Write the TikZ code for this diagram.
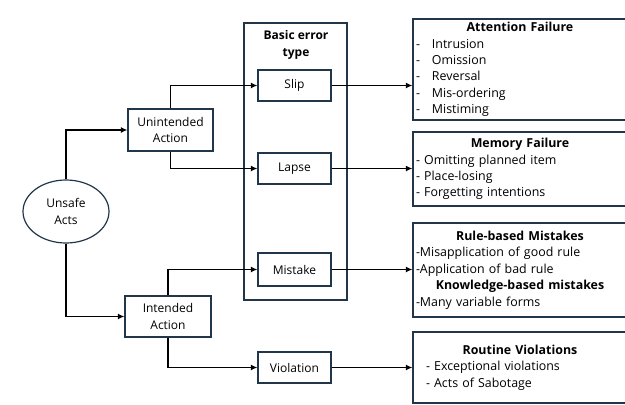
\documentclass[tikz,border=0pt]{standalone}
\usepackage{fontspec}
\setmainfont{Open Sans}
\usetikzlibrary{arrows.meta,shapes.geometric}
\definecolor{edge}{HTML}{22364A}
\tikzset{
  every node/.style={font=\fontsize{12}{16.4}\selectfont},
  box/.style={draw=edge, line width=1.2pt, inner sep=0pt, align=center},
  rbox/.style={draw=edge, line width=1.2pt, inner xsep=3pt, inner ysep=0pt,
     minimum width=214pt, text width=208pt, align=left,
     font=\fontsize{12.4}{16.4}\selectfont},
  arr/.style={line width=1.9pt, -{Latex[length=6.5pt,width=6pt]}},
}
\newcommand{\ttl}[1]{\makebox[\linewidth][c]{\textbf{#1}}}
\begin{document}
\begin{tikzpicture}[x=1pt,y=-1pt]
\useasboundingbox (0,0) rectangle (625,405);
% container
\node[box, minimum width=103pt, minimum height=277pt] (cont) at (295.5,161.5) {};
\node[align=center, inner sep=0pt, font=\fontsize{12}{17}\selectfont\bfseries] (bet) at (296,44.5) {Basic error\\type};
% left
\node[box, ellipse, minimum width=86pt, minimum height=63pt] (ell) at (66,211.5) {Unsafe\\Acts};
\node[box, minimum width=85pt, minimum height=42pt] (ua) at (170.5,130) {Unintended\\Action};
\node[box, minimum width=86pt, minimum height=41pt] (ia) at (168,316.5) {Intended\\Action};
% middle
\node[box, minimum width=73pt, minimum height=31pt] (slip) at (294.5,85.5) {Slip};
\node[box, minimum width=73pt, minimum height=31pt] (lapse) at (294.5,168.5) {Lapse};
\node[box, minimum width=73pt, minimum height=33pt] (mis) at (294.5,269.5) {Mistake};
\node[box, minimum width=73pt, minimum height=31pt] (vio) at (294.5,367.5) {Violation};
% right
\node[rbox, minimum height=101pt] (att) at (520,69.5) {\ttl{Attention Failure}\\
\makebox[16pt][l]{-}Intrusion\\
\makebox[16pt][l]{-}Omission\\
\makebox[16pt][l]{-}Reversal\\
\makebox[16pt][l]{-}Mis-ordering\\
\makebox[16pt][l]{-}Mistiming};
\node[rbox, minimum height=74pt] (mem) at (520,169) {\ttl{Memory Failure}\\
- Omitting planned item\\
- Place-losing\\
- Forgetting intentions};
\node[rbox, minimum height=94pt] (rule) at (520,270) {\ttl{Rule-based Mistakes}\\
-Misapplication of good rule\\
-Application of bad rule\\
\ttl{Knowledge-based mistakes}\\
-Many variable forms};
\node[rbox, minimum height=71pt] (rout) at (520,367.5) {\ttl{Routine Violations}\\
\hspace*{10pt}- Exceptional violations\\
\hspace*{10pt}- Acts of Sabotage};
% connectors
\draw[arr] (ell.north) |- (ua.west);
\draw[arr] (ell.south) |- (ia.west);
\draw[arr] (ua.north) |- (slip.west);
\draw[arr] (ua.south) |- (lapse.west);
\draw[arr] (ia.north) |- (mis.west);
\draw[arr] (ia.south) |- (vio.west);
\draw[arr] (slip.east) -- (slip.east -| att.west);
\draw[arr] (lapse.east) -- (lapse.east -| mem.west);
\draw[arr] (mis.east) -- (mis.east -| rule.west);
\draw[arr] (vio.east) -- (vio.east -| rout.west);
\end{tikzpicture}
\end{document}
